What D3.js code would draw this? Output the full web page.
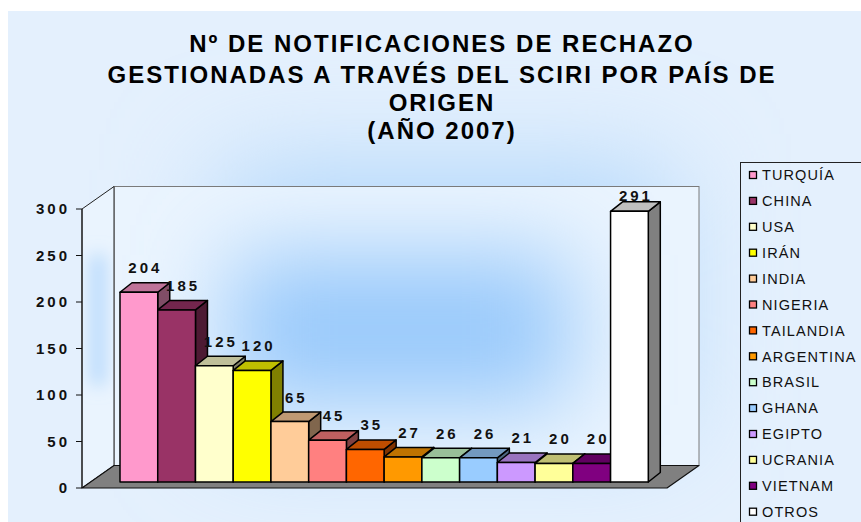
<!DOCTYPE html>
<html>
<head>
<meta charset="utf-8">
<script src="https://cdn.jsdelivr.net/npm/d3@7"></script>
<style>
  html, body { margin: 0; padding: 0; background: #ffffff; }
  svg { display: block; }
</style>
</head>
<body>
<div id="chart"></div>
<script>
// Rejection notifications handled through SCIRI, by country of origin (2007)
const categories = ["TURQUÍA", "CHINA", "USA", "IRÁN", "INDIA", "NIGERIA", "TAILANDIA",
                    "ARGENTINA", "BRASIL", "GHANA", "EGIPTO", "UCRANIA", "VIETNAM", "OTROS"];
const values = [204, 185, 125, 120, 65, 45, 35, 27, 26, 26, 21, 20, 20, 291];
const barColors = ["#FF99CC", "#993366", "#FFFFCC", "#FFFF00", "#FFCC99", "#FF8080", "#FF6600",
                   "#FF9900", "#CCFFCC", "#99CCFF", "#CC99FF", "#FFFF99", "#800080", "#FFFFFF"];
const yTicks = [0, 50, 100, 150, 200, 250, 300];
const titleLines = ["Nº DE NOTIFICACIONES DE RECHAZO",
                    "GESTIONADAS A TRAVÉS DEL SCIRI POR PAÍS DE",
                    "ORIGEN",
                    "(AÑO 2007)"];

const W = 861, H = 522;
const svg = d3.select("#chart").append("svg").attr("width", W).attr("height", H);
const defs = svg.append("defs");

// soft glows
defs.append("filter").attr("id", "glowBig").attr("x", "-50%").attr("y", "-50%").attr("width", "200%").attr("height", "200%")
  .append("feGaussianBlur").attr("stdDeviation", 55);
defs.append("filter").attr("id", "glowWall").attr("x", "-50%").attr("y", "-50%").attr("width", "200%").attr("height", "200%")
  .append("feGaussianBlur").attr("stdDeviation", 45);
defs.append("filter").attr("id", "glowSide").attr("x", "-100%").attr("y", "-50%").attr("width", "300%").attr("height", "200%")
  .append("feGaussianBlur").attr("stdDeviation", 9);

// 3D frame geometry
const depthX = 32, depthY = -22.5;     // wall depth
const barDX = 12, barDY = -9.5;        // bar depth
const barShiftY = -6;                  // bars stand slightly behind the front floor edge
const frontLeft = 82, frontRight = 667;

const y = d3.scaleLinear().domain([0, 300]).range([488, 209]);
const x = d3.scaleBand().domain(categories).range([120, 648.3]).padding(0);

// chart area background
svg.append("rect").attr("x", 8).attr("y", 11).attr("width", W - 8).attr("height", H - 11).attr("fill", "#E4F0FD");
const areaClip = defs.append("clipPath").attr("id", "areaClip");
areaClip.append("rect").attr("x", 8).attr("y", 11).attr("width", W - 8).attr("height", H - 11);
svg.append("g").attr("clip-path", "url(#areaClip)")
  .append("rect").attr("x", 220).attr("y", 170).attr("width", 450).attr("height", 260)
  .attr("fill", "#AFD6FB").attr("filter", "url(#glowBig)");

// back wall
const wallTop = y(300) + depthY, wallBottom = y(0) + depthY;
const wallLeft = frontLeft + depthX, wallRight = frontRight + depthX;
const backClip = defs.append("clipPath").attr("id", "backClip");
backClip.append("rect").attr("x", wallLeft).attr("y", wallTop).attr("width", wallRight - wallLeft).attr("height", wallBottom - wallTop);
svg.append("rect").attr("x", wallLeft).attr("y", wallTop).attr("width", wallRight - wallLeft).attr("height", wallBottom - wallTop)
  .attr("fill", "#EAF4FE");
svg.append("g").attr("clip-path", "url(#backClip)")
  .append("rect").attr("x", 230).attr("y", 255).attr("width", 340).attr("height", 150)
  .attr("fill", "#98C9FB").attr("filter", "url(#glowWall)");
svg.append("rect").attr("x", wallLeft).attr("y", wallTop).attr("width", wallRight - wallLeft).attr("height", wallBottom - wallTop)
  .attr("fill", "none").attr("stroke", "#7a7a7a").attr("stroke-width", 1);

// left wall
const leftPts = [[frontLeft, y(300)], [wallLeft, wallTop], [wallLeft, wallBottom], [frontLeft, y(0)]];
const leftClip = defs.append("clipPath").attr("id", "leftClip");
leftClip.append("polygon").attr("points", leftPts.map(p => p.join(",")).join(" "));
svg.append("polygon").attr("points", leftPts.map(p => p.join(",")).join(" ")).attr("fill", "#EAF4FE");
svg.append("g").attr("clip-path", "url(#leftClip)")
  .append("rect").attr("x", 93).attr("y", 255).attr("width", 10).attr("height", 130)
  .attr("fill", "#9CCBFB").attr("filter", "url(#glowSide)");
svg.append("polygon").attr("points", leftPts.map(p => p.join(",")).join(" "))
  .attr("fill", "none").attr("stroke", "#222").attr("stroke-width", 1);

// floor
const floorPts = [[frontLeft, y(0)], [wallLeft, wallBottom], [wallRight, wallBottom], [frontRight, y(0)]];
svg.append("polygon").attr("points", floorPts.map(p => p.join(",")).join(" "))
  .attr("fill", "#808080").attr("stroke", "#111").attr("stroke-width", 1.2).attr("stroke-linejoin", "round");

// value axis
const axisG = svg.append("g");
axisG.append("line").attr("x1", frontLeft).attr("x2", frontLeft).attr("y1", y(0)).attr("y2", y(300))
  .attr("stroke", "#111").attr("stroke-width", 1);
axisG.selectAll("line.tick").data(yTicks).join("line").attr("class", "tick")
  .attr("x1", frontLeft - 6).attr("x2", frontLeft).attr("y1", d => y(d)).attr("y2", d => y(d))
  .attr("stroke", "#111").attr("stroke-width", 1);
axisG.selectAll("text").data(yTicks).join("text")
  .attr("x", 67 + 3).attr("y", d => y(d)).attr("dy", "0.36em")
  .attr("text-anchor", "end")
  .attr("font-family", "'Liberation Sans', Arial, sans-serif").attr("font-weight", "bold")
  .attr("font-size", 15).attr("letter-spacing", "3px").attr("fill", "#111")
  .text(d => d);

// bars
const shade = (c, k) => { const r = d3.rgb(c); return d3.rgb(r.r * k, r.g * k, r.b * k).formatHex(); };
const bars = svg.append("g");
categories.forEach((c, i) => {
  const x0 = x(c), w = x.bandwidth();
  const yT = y(values[i]) + barShiftY, yB = y(0) + barShiftY;
  const g = bars.append("g").attr("stroke", "#000").attr("stroke-width", 1.5).attr("stroke-linejoin", "round");
  g.append("polygon")
    .attr("points", [[x0 + w, yT], [x0 + w + barDX, yT + barDY], [x0 + w + barDX, yB + barDY], [x0 + w, yB]].map(p => p.join(",")).join(" "))
    .attr("fill", shade(barColors[i], 0.5));
  g.append("polygon")
    .attr("points", [[x0, yT], [x0 + barDX, yT + barDY], [x0 + w + barDX, yT + barDY], [x0 + w, yT]].map(p => p.join(",")).join(" "))
    .attr("fill", shade(barColors[i], 0.75));
  g.append("rect").attr("x", x0).attr("y", yT).attr("width", w).attr("height", yB - yT)
    .attr("fill", barColors[i]);
});

// value labels
svg.append("g").selectAll("text").data(values).join("text")
  .attr("x", (d, i) => x(categories[i]) + x.bandwidth() / 2 + 5 + 1.5)
  .attr("y", d => Math.max(y(d) + barShiftY - 19, 201))
  .attr("text-anchor", "middle")
  .attr("font-family", "'Liberation Sans', Arial, sans-serif").attr("font-weight", "bold")
  .attr("font-size", 15).attr("letter-spacing", "3px").attr("fill", "#111")
  .text(d => d);

// title
svg.append("g").selectAll("text").data(titleLines).join("text")
  .attr("x", 441 + 1).attr("y", (d, i) => [52, 83, 111, 139][i])
  .attr("text-anchor", "middle")
  .attr("font-family", "'Liberation Sans', Arial, sans-serif").attr("font-weight", "bold")
  .attr("font-size", 24).attr("letter-spacing", "2px").attr("fill", "#000")
  .text(d => d);

// legend
const legend = svg.append("g");
legend.append("rect").attr("x", 740.5).attr("y", 162.5).attr("width", 140).attr("height", 380)
  .attr("fill", "none").attr("stroke", "#222").attr("stroke-width", 1);
const items = legend.selectAll("g.item").data(categories).join("g").attr("class", "item")
  .attr("transform", (d, i) => `translate(0,${175 + i * 25.9})`);
items.append("rect").attr("x", 749.5).attr("y", -3.5).attr("width", 7).attr("height", 7)
  .attr("fill", (d, i) => barColors[i]).attr("stroke", "#000").attr("stroke-width", 1.3);
items.append("text").attr("x", 762).attr("y", 0).attr("dy", "0.36em")
  .attr("font-family", "'Liberation Sans', Arial, sans-serif")
  .attr("font-size", 14.5).attr("letter-spacing", "1.1px").attr("fill", "#111")
  .text(d => d);
</script>
</body>
</html>
